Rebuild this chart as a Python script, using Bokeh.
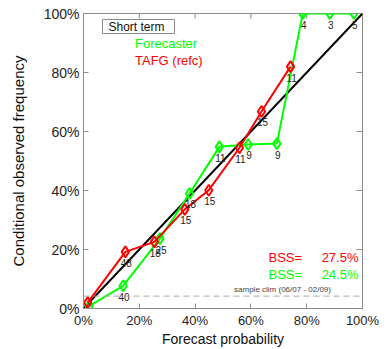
import math
from bokeh.plotting import figure
from bokeh.models import (Range1d, FixedTicker, NumeralTickFormatter, Span,
                          Label, Legend, LegendItem, ColumnDataSource)
from bokeh.core.properties import value
from bokeh.embed import file_html
from bokeh.resources import INLINE

# ---- data ----
ticks = [0.0, 0.2, 0.4, 0.6, 0.8, 1.0]
diag = [0.0, 1.0]
clim = 0.042

red_x = [0.015, 0.150, 0.254, 0.363, 0.449, 0.559, 0.638, 0.742]
red_y = [0.020, 0.192, 0.226, 0.336, 0.401, 0.545, 0.668, 0.820]
red_n = ["1728", "48", "18", "15", "15", "11", "15", "11"]

green_x = [0.020, 0.142, 0.274, 0.380, 0.487, 0.590, 0.693, 0.786, 0.883, 0.969]
green_y = [0.008, 0.077, 0.237, 0.390, 0.548, 0.556, 0.559, 1.000, 1.000, 1.000]
green_n = ["1726", "40", "25", "18", "11", "9", "9", "4", "3", "5"]

bss_red = "27.5%"
bss_green = "24.5%"
title_txt = "Short term"
clim_txt = "sample clim (06/07 - 02/09)"

RED = "#ff0000"
GREEN = "#00ff00"
GRAY = "#8c8c8c"
FONT = "Liberation Sans"

W, H = 386, 349
BL, BR, BT, BB = 83, 24, 13, 41
FH = H - BT - BB

p = figure(width=W, height=H, x_range=Range1d(0, 1), y_range=Range1d(0, 1),
           output_backend="svg", toolbar_location=None,
           min_border_left=BL, min_border_right=BR, min_border_top=BT, min_border_bottom=BB)
p.xgrid.visible = False
p.ygrid.visible = False
p.outline_line_color = GRAY
p.background_fill_color = "white"
p.border_fill_color = "white"

xax = p.below[0]
yax = p.left[0]
for ax in (xax, yax):
    ax.ticker = FixedTicker(ticks=ticks)
    ax.formatter = NumeralTickFormatter(format="0%")
    ax.axis_line_color = GRAY
    ax.major_tick_line_color = GRAY
    ax.major_tick_in = 5
    ax.major_tick_out = 0
    ax.minor_tick_line_color = None
    ax.major_label_text_font = FONT
    ax.major_label_text_font_size = "14px"
    ax.major_label_text_color = "#222222"
    ax.axis_label_text_font = FONT
    ax.axis_label_text_font_size = "15px"
    ax.axis_label_text_font_style = "normal"
    ax.axis_label_text_color = "#111111"

xax.axis_label = "Forecast probability"
xax.major_label_standoff = 4
xax.axis_label_standoff = 0
xax.major_label_text_font_size = "13px"
xax.axis_label_text_font_size = "14px"
yax.axis_label = "Conditional observed frequency"
yax.major_label_standoff = 4
yax.axis_label_standoff = 14

# inward ticks on top and right edges (half of each dash is clipped by the frame)
p.scatter(ticks, [1.0] * len(ticks), marker="dash", angle=math.pi / 2, size=10,
          line_color=GRAY, line_width=1)
p.scatter([1.0] * len(ticks), ticks, marker="dash", size=12,
          line_color=GRAY, line_width=1)

# climatology
p.add_layout(Span(location=clim, dimension="width", line_color="#aaaaaa",
                  line_dash="6 4", line_width=1))

# perfect reliability
p.line(diag, diag, line_color="black", line_width=2)

rs = ColumnDataSource(dict(x=red_x, y=red_y, n=red_n))
gs = ColumnDataSource(dict(x=green_x, y=green_y, n=green_n))

p.line("x", "y", source=gs, line_color=GREEN, line_width=2)
p.scatter("x", "y", source=gs, marker="diamond", size=11, fill_color=None,
          line_color=GREEN, line_width=2)
p.line("x", "y", source=rs, line_color=RED, line_width=2)
p.scatter("x", "y", source=rs, marker="diamond", size=11, fill_color=None,
          line_color=RED, line_width=2)

for s in (gs, rs):
    p.text("x", "y", text="n", source=s, x_offset=1, y_offset=11,
           text_align="center", text_baseline="middle",
           text_font=value(FONT), text_font_size="10px", text_color="#222222")

# legend
g_sw = p.line([], [], line_color=GREEN, line_width=5)
r_sw = p.line([], [], line_color=RED, line_width=5)

p.add_layout(Label(x=19, y=FH - 13, x_units="screen", y_units="screen", text=title_txt,
                   text_align="left", text_baseline="middle", text_font=FONT,
                   text_font_size="12px", text_color="#111111",
                   border_line_color=GRAY, background_fill_color="white",
                   padding=dict(left=6, right=10, top=0, bottom=0)))

for sw, lab, col, yy in ((g_sw, "Forecaster", GREEN, FH - 38), (r_sw, "TAFG (refc)", RED, FH - 55)):
    lg = Legend(items=[LegendItem(label=lab, renderers=[sw])], location=(27, yy),
                label_text_color=col, label_text_font=FONT, label_text_font_size="13px",
                border_line_color=None, background_fill_alpha=0, padding=0, margin=0,
                glyph_width=14, glyph_height=10, label_height=14, label_standoff=11)
    p.add_layout(lg)

# BSS
for txt_v, col, yy in ((bss_red, RED, 51), (bss_green, GREEN, 34)):
    p.add_layout(Label(x=185, y=yy, x_units="screen", y_units="screen", text="BSS=",
                       text_align="left", text_baseline="middle", text_font=FONT,
                       text_font_size="13px", text_color=col))
    p.add_layout(Label(x=275, y=yy, x_units="screen", y_units="screen", text=txt_v,
                       text_align="right", text_baseline="middle", text_font=FONT,
                       text_font_size="13px", text_color=col))

p.add_layout(Label(x=199, y=19, x_units="screen", y_units="screen", text=clim_txt,
                   text_align="center", text_baseline="middle", text_font=FONT,
                   text_font_size="8px", text_color="#444444"))

open("out.html", "w").write(file_html(p, INLINE))
